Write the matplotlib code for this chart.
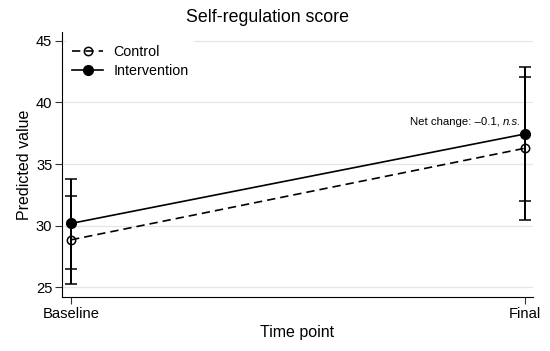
import matplotlib
matplotlib.use("Agg")
import matplotlib.pyplot as plt
from matplotlib.transforms import offset_copy

plt.rcParams['font.family'] = ['Liberation Sans', 'DejaVu Sans']

time_points = ["Baseline", "Final"]
x_pos = [0, 1]
control_mean = [28.84, 36.28]
control_lo = [25.26, 30.45]
control_hi = [32.40, 42.05]
interv_mean = [30.17, 37.44]
interv_lo = [26.48, 31.98]
interv_hi = [33.82, 42.88]
yticks = [25, 30, 35, 40, 45]

fig = plt.figure(figsize=(5.5, 3.51), dpi=100)
ax = fig.add_axes([62/550, 1 - 297/351, (533-62)/550, (297-32)/351])

for y in yticks:
    ax.axhline(y, color='#e6e6e6', lw=0.9, zorder=0)

ax.errorbar(x_pos, control_mean,
            yerr=[[m - l for m, l in zip(control_mean, control_lo)],
                  [h - m for m, h in zip(control_mean, control_hi)]],
            fmt='none', ecolor='black', elinewidth=1.4, capsize=4.5, capthick=1.1, zorder=2)
ax.errorbar(x_pos, interv_mean,
            yerr=[[m - l for m, l in zip(interv_mean, interv_lo)],
                  [h - m for m, h in zip(interv_mean, interv_hi)]],
            fmt='none', ecolor='black', elinewidth=1.4, capsize=4.5, capthick=1.1, zorder=2)

ax.plot(x_pos, control_mean, color='black', ls=(0, (5, 3)), lw=1.2,
        marker='o', ms=6, mfc='none', mec='black', mew=1.1, label='Control', zorder=3)
ax.plot(x_pos, interv_mean, color='black', ls='-', lw=1.2,
        marker='o', ms=7, mfc='black', mec='black', label='Intervention', zorder=3)

ax.set_xlim(-0.02, 1.018)
ax.set_ylim(24.19, 45.73)
ax.set_xticks(x_pos)
ax.set_xticklabels(time_points, fontsize=10.6)
ax.set_yticks(yticks)
ax.set_yticklabels([str(v) for v in yticks], fontsize=10.6)
ax.spines['top'].set_visible(False)
ax.spines['right'].set_visible(False)
ax.tick_params(axis='both', direction='out', length=5, width=0.8, color='#333333', pad=2)
ax.set_xlabel('Time point', fontsize=11.5, labelpad=3)
ax.set_ylabel('Predicted value', fontsize=11.5, labelpad=3)
fig.text(268/550, 1 - 18/351, 'Self-regulation score', fontsize=12.8, ha='center', va='center')

# annotation: normal part + italic "n.s."
ns = ax.text(1 - 0.008, 38.4, 'n.s.', style='italic', ha='right', va='center', fontsize=8.2)
fig.canvas.draw()
w = ns.get_window_extent().width
ax.text(1 - 0.008, 38.4, 'Net change: \u20130.1, ', ha='right', va='center', fontsize=8.2,
        transform=offset_copy(ax.transData, fig=fig, x=-w * 72 / fig.dpi, y=0, units='points'))

leg = ax.legend(loc='upper left', bbox_to_anchor=(0.0, 0.99), frameon=True, edgecolor='none',
                framealpha=1, fontsize=10.3, handlelength=2.2, borderaxespad=0.3,
                labelspacing=0.35, handletextpad=0.7)

fig.savefig('out.png', dpi=100)
